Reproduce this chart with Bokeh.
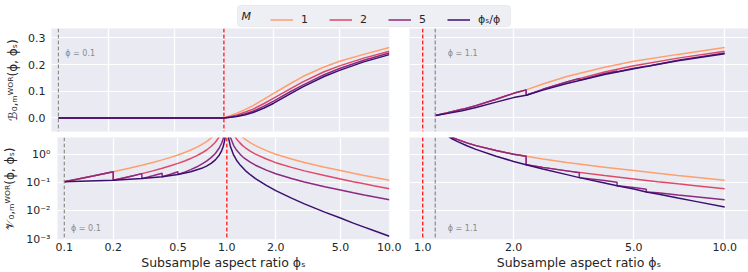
from bokeh.plotting import figure
from bokeh.models import (Range1d, FixedTicker, CustomJSTickFormatter, Span, Label,
                          Legend, LegendItem, Grid, BoxAnnotation)
from bokeh.layouts import column, row
from bokeh.embed import file_html
from bokeh.resources import INLINE

# ---------------- data ----------------
PHI_LEFT = 0.1
PHI_RIGHT = 1.1
LEGEND_TITLE = "M"
SERIES_LABELS = ["1", "2", "5", "ϕₛ/ϕ"]
COLORS = ["#fe9f6d", "#de4968", "#8c2981", "#3b0f70"]

X_TICKS_LEFT = [0.1, 0.2, 0.5, 1.0, 2.0, 5.0, 10.0]
X_TICKS_RIGHT = [1.0, 2.0, 5.0, 10.0]
Y_TICKS_BIAS = [0.0, 0.1, 0.2, 0.3]
Y_TICKS_VAR = [0.001, 0.01, 0.1, 1.0]

# top-left: bias, phi = 0.1
BL_X = [0.1, 1.0, 1.1, 1.2, 1.35, 1.5, 1.75, 2.0, 2.5, 3.0, 4.0, 5.0, 7.0, 10.0]
BL_M1 = [0.0, 0.0, 0.009, 0.018, 0.032, 0.046, 0.070, 0.092, 0.127, 0.155, 0.190, 0.212, 0.238, 0.264]
BL_M2 = [0.0, 0.0, 0.005, 0.011, 0.022, 0.033, 0.054, 0.074, 0.108, 0.135, 0.172, 0.195, 0.224, 0.250]
BL_M5 = [0.0, 0.0, 0.003, 0.007, 0.016, 0.025, 0.044, 0.063, 0.097, 0.123, 0.161, 0.185, 0.216, 0.243]
BL_MR = [0.0, 0.0, 0.002, 0.005, 0.012, 0.020, 0.037, 0.055, 0.089, 0.116, 0.154, 0.178, 0.210, 0.237]

# top-right: bias, phi = 1.1
BR_X1 = [1.1, 1.2, 1.35, 1.5, 1.75, 2.0, 2.2, 2.5, 3.0, 4.0, 5.0, 7.0, 10.0]
BR_M1 = [0.009, 0.018, 0.032, 0.046, 0.070, 0.092, 0.105, 0.127, 0.155, 0.190, 0.212, 0.238, 0.264]
BR_X2 = [1.1, 1.2, 1.35, 1.5, 1.75, 2.0, 2.2, 2.2, 2.5, 3.0, 4.0, 5.0, 7.0, 10.0]
BR_M2 = [0.009, 0.018, 0.032, 0.046, 0.070, 0.092, 0.105, 0.085, 0.107, 0.135, 0.172, 0.195, 0.224, 0.250]
BR_X5 = [1.1, 1.2, 1.35, 1.5, 1.75, 2.0, 2.2, 2.2, 2.5, 3.0, 3.3, 3.3, 4.0, 4.4, 4.4, 5.0, 5.5, 5.5, 7.0, 10.0]
BR_M5 = [0.009, 0.018, 0.032, 0.046, 0.070, 0.092, 0.105, 0.085, 0.107, 0.135, 0.148, 0.141,
         0.166, 0.176, 0.173, 0.186, 0.194, 0.193, 0.216, 0.243]
BR_XR = [1.1, 1.2, 1.35, 1.5, 1.75, 2.0, 2.2, 2.5, 3.0, 4.0, 5.0, 7.0, 10.0]
BR_MR = [0.009, 0.016, 0.027, 0.039, 0.059, 0.076, 0.085, 0.104, 0.129, 0.163, 0.184, 0.214, 0.240]

# bottom-left: variance, phi = 0.1  (under- and over-parametrized branches)
VL_XU1 = [0.1, 0.12, 0.15, 0.2, 0.25, 0.3, 0.35, 0.4, 0.45, 0.5, 0.55, 0.6, 0.65, 0.7, 0.75, 0.8, 0.85, 0.9]
VL_M1U = [0.111, 0.136, 0.176, 0.25, 0.333, 0.43, 0.54, 0.667, 0.82, 1.0, 1.22, 1.5, 1.86, 2.33, 3.0, 4.0, 5.7, 9.0]
VL_XU2 = [0.1, 0.12, 0.15, 0.2, 0.2, 0.25, 0.3, 0.35, 0.4, 0.45, 0.5, 0.55, 0.6, 0.65, 0.7, 0.75, 0.8, 0.85, 0.9, 0.93]
VL_M2U = [0.111, 0.136, 0.176, 0.25, 0.125, 0.167, 0.215, 0.27, 0.333, 0.41, 0.5, 0.61, 0.75, 0.93, 1.17, 1.5,
          2.0, 2.85, 4.5, 6.6]
VL_XU5 = [0.1, 0.15, 0.2, 0.2, 0.25, 0.3, 0.3, 0.35, 0.4, 0.4, 0.45, 0.5, 0.5, 0.55, 0.6, 0.65, 0.7, 0.75,
          0.8, 0.85, 0.9, 0.93, 0.95, 0.97]
VL_M5U = [0.111, 0.176, 0.25, 0.125, 0.167, 0.215, 0.143, 0.18, 0.222, 0.167, 0.205, 0.25, 0.2, 0.244, 0.3,
          0.37, 0.467, 0.6, 0.8, 1.13, 1.8, 2.66, 3.8, 6.5]
VL_XUR = [0.1, 0.2, 0.3, 0.4, 0.5, 0.6, 0.7, 0.75, 0.8, 0.85, 0.9, 0.93, 0.95, 0.97, 0.98]
VL_MRU = [0.111, 0.125, 0.143, 0.167, 0.2, 0.25, 0.333, 0.4, 0.5, 0.667, 1.0, 1.43, 2.0, 3.33, 5.0]

VL_XO = [1.02, 1.05, 1.1, 1.15, 1.2, 1.25, 1.3, 1.4, 1.5, 1.75, 2.0, 2.5, 3.0, 4.0, 5.0, 6.0, 7.0, 8.0, 10.0]
VL_M1O = [55, 22, 11, 7.3, 5.5, 4.3, 3.6, 2.7, 2.15, 1.43, 1.06, 0.72, 0.54, 0.365, 0.278, 0.222, 0.186, 0.16, 0.125]
VL_M2O = [27, 11, 5.5, 3.65, 2.75, 2.15, 1.8, 1.35, 1.07, 0.715, 0.53, 0.36, 0.27, 0.183, 0.139, 0.111,
          0.093, 0.08, 0.0625]
VL_M5O = [11, 4.4, 2.2, 1.46, 1.1, 0.86, 0.72, 0.54, 0.43, 0.286, 0.212, 0.144, 0.108, 0.073, 0.0556, 0.0444,
          0.0372, 0.032, 0.025]
VL_XOR = [1.01, 1.02, 1.03, 1.05, 1.1, 1.15, 1.2, 1.3, 1.4, 1.5, 1.75, 2.0, 2.5, 3.0, 4.0, 5.0, 6.0, 7.0, 8.0, 10.0]
VL_MRO = [10.6, 5.4, 3.5, 2.1, 1.0, 0.635, 0.46, 0.277, 0.193, 0.143, 0.082, 0.053, 0.0288, 0.018, 0.0091,
          0.0056, 0.0037, 0.00266, 0.002, 0.00125]

# bottom-right: variance, phi = 1.1
VR_X1 = [1.1, 1.15, 1.2, 1.25, 1.3, 1.4, 1.5, 1.75, 2.0, 2.2, 2.5, 3.0, 4.0, 5.0, 6.0, 7.0, 8.0, 10.0]
VR_M1 = [11, 7.3, 5.5, 4.3, 3.6, 2.7, 2.15, 1.43, 1.06, 0.9, 0.72, 0.54, 0.365, 0.278, 0.222, 0.186, 0.16, 0.125]
VR_X2 = [1.1, 1.15, 1.2, 1.25, 1.3, 1.4, 1.5, 1.75, 2.0, 2.2, 2.2, 2.5, 3.0, 4.0, 5.0, 6.0, 7.0, 8.0, 10.0]
VR_M2 = [11, 7.3, 5.5, 4.3, 3.6, 2.7, 2.15, 1.43, 1.06, 0.9, 0.45, 0.36, 0.27, 0.183, 0.139, 0.111, 0.093,
         0.08, 0.0625]
VR_X5 = [1.1, 1.15, 1.2, 1.25, 1.3, 1.4, 1.5, 1.75, 2.0, 2.2, 2.2, 2.5, 3.0, 3.3, 3.3, 4.0, 4.4, 4.4,
         5.0, 5.5, 5.5, 6.0, 7.0, 8.0, 10.0]
VR_M5 = [11, 7.3, 5.5, 4.3, 3.6, 2.7, 2.15, 1.43, 1.06, 0.9, 0.45, 0.36, 0.27, 0.233, 0.155, 0.122, 0.105,
         0.079, 0.0695, 0.0595, 0.0476, 0.0444, 0.0372, 0.032, 0.025]
VR_XR = [1.1, 1.15, 1.2, 1.25, 1.3, 1.4, 1.5, 1.75, 2.0, 2.2, 2.5, 3.0, 3.3, 4.0, 4.4, 5.0, 5.5, 6.0, 7.0, 8.0, 10.0]
VR_MR = [11, 7.0, 5.04, 3.78, 3.05, 2.12, 1.58, 0.9, 0.583, 0.45, 0.317, 0.198, 0.155, 0.1, 0.079, 0.061,
         0.0476, 0.0407, 0.0292, 0.022, 0.01375]

# ---------------- styling ----------------
BG = "#EAEAF2"
TXT = "#262626"
FONT = "DejaVu Sans"
LW = 1.5

FMT_FIXED = CustomJSTickFormatter(code="return tick.toFixed(1);")
FMT_POW = CustomJSTickFormatter(code=r"""
const e = Math.round(Math.log10(tick));
const m = {"-": "\u207b", "0": "\u2070", "1": "\u00b9", "2": "\u00b2", "3": "\u00b3",
           "4": "\u2074", "5": "\u2075"};
return "10" + String(e).split("").map(c => m[c]).join("");
""")


def panel(width, height, xr, yr, ylog, show_x, show_y, borders, xticks, yticks):
    p = figure(width=width, height=height, x_range=xr, y_range=yr,
               x_axis_type="log", y_axis_type="log" if ylog else "linear",
               x_axis_location="below" if show_x else None,
               y_axis_location="left" if show_y else None,
               output_backend="svg", toolbar_location=None,
               min_border_left=borders[0], min_border_right=borders[1],
               min_border_top=borders[2], min_border_bottom=borders[3])
    p.center = [c for c in p.center if not isinstance(c, Grid)]
    p.add_layout(Grid(dimension=0, ticker=FixedTicker(ticks=xticks),
                      grid_line_color="white", grid_line_width=1.2))
    p.add_layout(Grid(dimension=1, ticker=FixedTicker(ticks=yticks),
                      grid_line_color="white", grid_line_width=1.2))
    p.background_fill_color = BG
    p.border_fill_color = "white"
    p.outline_line_color = None
    for ax in p.axis:
        ax.axis_line_color = None
        ax.major_tick_line_color = None
        ax.minor_tick_line_color = None
        ax.major_tick_out = 0
        ax.major_label_text_font = FONT
        ax.major_label_text_font_size = "11px"
        ax.major_label_text_color = TXT
        ax.axis_label_text_font = FONT
        ax.axis_label_text_font_style = "normal"
        ax.axis_label_text_color = TXT
    if show_x:
        p.xaxis.ticker = FixedTicker(ticks=xticks)
        p.xaxis.formatter = FMT_FIXED
        p.xaxis.axis_label = "Subsample aspect ratio ϕₛ"
        p.xaxis.axis_label_text_font_size = "12.5px"
        p.xaxis.major_label_standoff = 3
        p.xaxis.axis_label_standoff = 1
    if show_y:
        p.yaxis.ticker = FixedTicker(ticks=yticks)
        p.yaxis.formatter = FMT_POW if ylog else FMT_FIXED
        p.yaxis.axis_label_text_font_size = "12px"
        p.yaxis.major_label_standoff = 7 if ylog else 6
        p.yaxis.axis_label_standoff = 6 if ylog else 5
    return p


def add_guides(p, phi, label_y):
    p.add_layout(Span(location=phi, dimension="height", line_color="#8a8a8a",
                      line_dash="4 2", line_width=1.2))
    p.add_layout(Span(location=1.0, dimension="height", line_color="red",
                      line_dash="4 2", line_width=1.2))
    p.add_layout(Label(x=phi * 1.1, y=label_y, x_units="data", y_units="screen",
                       text=f"ϕ = {phi}", text_font=FONT, text_font_size="8px",
                       text_color="#8a8a8a", text_baseline="middle", text_align="left"))


LEFT_XR = Range1d(0.0908, 10.02)
RIGHT_XR = Range1d(0.904, 11.99)
BIAS_YR = Range1d(-0.051, 0.335)
VAR_YR = Range1d(9.6e-4, 4.19)

# page origin is the window's top-left corner: 748 x 272 in total
fA = panel(402, 107, LEFT_XR, BIAS_YR, False, False, True, (51, 13, 1, 3), X_TICKS_LEFT, Y_TICKS_BIAS)
fB = panel(346, 107, RIGHT_XR, BIAS_YR, False, False, False, (7, 0, 1, 3), X_TICKS_RIGHT, Y_TICKS_BIAS)
fC = panel(402, 138, LEFT_XR, VAR_YR, True, True, True, (51, 13, 3, 32), X_TICKS_LEFT, Y_TICKS_VAR)
fD = panel(346, 138, RIGHT_XR, VAR_YR, True, True, False, (7, 0, 3, 32), X_TICKS_RIGHT, Y_TICKS_VAR)

fA.yaxis.axis_label = "ℬ₀,ₘᵂᴼᴿ(ϕ, ϕₛ)"
fC.yaxis.axis_label = "𝒱₀,ₘᵂᴼᴿ(ϕ, ϕₛ)"

for p, phi, ly in ((fA, PHI_LEFT, 78), (fB, PHI_RIGHT, 78), (fC, PHI_LEFT, 11), (fD, PHI_RIGHT, 11)):
    add_guides(p, phi, ly)

# bias curves
for xs, ys, c in ((BL_X, BL_M1, COLORS[0]), (BL_X, BL_M2, COLORS[1]),
                  (BL_X, BL_M5, COLORS[2]), (BL_X, BL_MR, COLORS[3])):
    fA.line(xs, ys, line_color=c, line_width=LW)
for xs, ys, c in ((BR_X1, BR_M1, COLORS[0]), (BR_X2, BR_M2, COLORS[1]),
                  (BR_X5, BR_M5, COLORS[2]), (BR_XR, BR_MR, COLORS[3])):
    fB.line(xs, ys, line_color=c, line_width=LW)

# variance curves
for xs, ys, c in ((VL_XU1, VL_M1U, COLORS[0]), (VL_XO, VL_M1O, COLORS[0]),
                  (VL_XU2, VL_M2U, COLORS[1]), (VL_XO, VL_M2O, COLORS[1]),
                  (VL_XU5, VL_M5U, COLORS[2]), (VL_XO, VL_M5O, COLORS[2]),
                  (VL_XUR, VL_MRU, COLORS[3]), (VL_XOR, VL_MRO, COLORS[3])):
    fC.line(xs, ys, line_color=c, line_width=LW)
for xs, ys, c in ((VR_X1, VR_M1, COLORS[0]), (VR_X2, VR_M2, COLORS[1]),
                  (VR_X5, VR_M5, COLORS[2]), (VR_XR, VR_MR, COLORS[3])):
    fD.line(xs, ys, line_color=c, line_width=LW)

# legend strip (title "M" sits to the left of the entries, inside one framed box)
lf = figure(width=748, height=27, x_range=Range1d(0, 1), y_range=Range1d(0, 1),
            x_axis_location=None, y_axis_location=None, output_backend="svg",
            toolbar_location=None, min_border=0)
lf.center = [c for c in lf.center if not isinstance(c, Grid)]
lf.outline_line_color = None
lf.background_fill_color = "white"
lf.border_fill_color = "white"
lf.add_layout(BoxAnnotation(left=237, right=510, bottom=1, top=22,
                            left_units="screen", right_units="screen",
                            bottom_units="screen", top_units="screen",
                            fill_color=BG, fill_alpha=0.8, line_color="#cccccc",
                            line_width=1, border_radius=3, level="underlay"))
lf.add_layout(Label(x=241, y=11.5, x_units="screen", y_units="screen", text=LEGEND_TITLE,
                    text_font=FONT, text_font_size="11px", text_font_style="italic",
                    text_color=TXT, text_baseline="middle", text_align="left"))
rends = [lf.line([2, 3], [2, 3], line_color=c, line_width=LW) for c in COLORS]
leg = Legend(items=[LegendItem(label=l, renderers=[r]) for l, r in zip(SERIES_LABELS, rends)],
             orientation="horizontal", location=(270, 1),
             label_text_font=FONT, label_text_font_size="11px", label_text_color=TXT,
             glyph_width=23, glyph_height=13, label_height=13, label_width=20,
             label_standoff=8, spacing=8, padding=4, margin=0,
             background_fill_alpha=0, border_line_color=None)
lf.add_layout(leg, "center")

layout = column(lf, row(fA, fB), row(fC, fD))
open("out.html", "w", encoding="utf-8").write(file_html(layout, INLINE))
